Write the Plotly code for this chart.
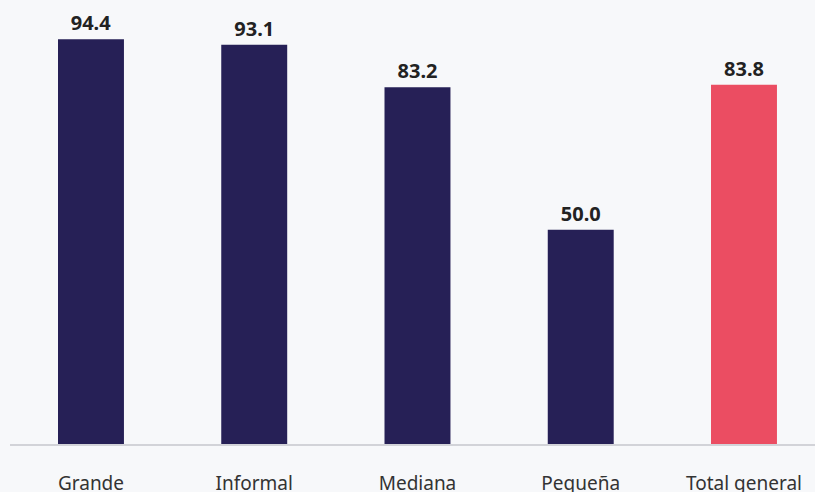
import plotly.graph_objects as go

categories = ["Grande", "Informal", "Mediana", "Pequeña", "Total general"]
values = [94.4, 93.1, 83.2, 50.0, 83.8]
bar_colors = ["#262056", "#262056", "#262056", "#262056", "#eb4d62"]

fig = go.Figure()
fig.add_trace(go.Bar(
    x=list(range(len(categories))),
    y=values,
    width=0.404,
    marker=dict(color=bar_colors, line=dict(width=0)),
    text=[f"{v:.1f}" for v in values],
    textposition="outside",
    textfont=dict(family="Noto Sans", size=20, color="#222222", weight="bold"),
    cliponaxis=False,
    hoverinfo="skip",
))

fig.update_layout(
    width=815,
    height=492,
    paper_bgcolor="#f7f8fa",
    plot_bgcolor="#f7f8fa",
    margin=dict(l=10, r=0, t=20, b=48),
    showlegend=False,
    font=dict(family="Noto Sans", color="#333333"),
    xaxis=dict(
        tickmode="array",
        tickvals=list(range(len(categories))),
        ticktext=categories,
        range=[-0.496, 4.435],
        showgrid=False,
        zeroline=False,
        showline=True,
        linecolor="#d2d3d8",
        linewidth=2,
        ticks="",
        tickfont=dict(size=19, color="#333333"),
        ticklabelstandoff=21,
        automargin=False,
    ),
    yaxis=dict(
        range=[0, 98.9],
        visible=False,
        showgrid=False,
        zeroline=False,
    ),
)

# drop the browser's default page margin so the figure fills the window
fig.write_html(
    "out.html",
    config={"displayModeBar": False},
    post_script="document.body.style.margin='0';document.body.style.background='#f7f8fa';document.body.style.overflow='hidden';",
)
